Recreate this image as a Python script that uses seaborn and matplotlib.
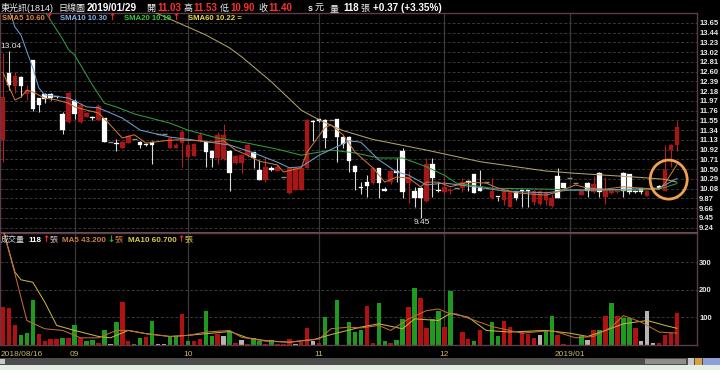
import numpy as np
import pandas as pd
import matplotlib
matplotlib.use("Agg")
import matplotlib.pyplot as plt
from matplotlib.patches import Ellipse, Rectangle
import seaborn as sns

# ---------------- data ----------------
stock_name = "東光訊(1814)"
chart_type = "日線圖"
last_date = "2019/01/29"

opens = [11.13, 12.56, 12.28, 12.49, 12.11, 12.84, 12.03, 12.11, 12.12, 12.07,
         11.68, 11.51, 11.97, 11.52, 11.63, 11.62, 11.56, 11.61, 11.08, 11.07,
         10.96, 11.07, 11.15, 11.09, 11.04, 11.09, 11.25, 11.25, 10.96, 10.96,
         11.06, 10.76, 10.79, 11.11, 11.09, 10.89, 10.73, 10.72, 10.88, 10.63,
         10.63, 10.81, 10.86, 10.48, 10.27, 10.53, 10.46, 10.34, 9.98, 10.05,
         10.05, 10.53, 11.54, 11.57, 11.56, 11.56, 11.58, 11.20, 11.20, 10.57,
         10.11, 10.22, 10.20, 10.52, 10.06, 10.23, 10.46, 10.89, 10.20, 10.02,
         10.10, 9.81, 10.60, 10.04, 10.00, 10.03, 10.09, 10.09, 10.25, 10.39,
         10.12, 10.23, 9.87, 9.91, 9.84, 9.69, 10.03, 10.04, 10.04, 9.80,
         9.76, 9.84, 9.71, 10.35, 10.20, 10.30, 10.20, 9.94, 10.21, 10.00,
         10.42, 9.91, 9.98, 10.01, 10.42, 10.39, 10.02, 10.09, 9.93, 10.09,
         10.14, 10.03, 10.91, 11.03]
highs = [13.00, 13.04, 12.60, 12.50, 12.31, 12.85, 12.04, 12.13, 12.13, 12.08,
         11.72, 12.17, 12.01, 11.92, 11.73, 11.64, 11.90, 11.61, 11.08, 11.15,
         11.11, 11.24, 11.15, 11.11, 11.06, 11.11, 11.25, 11.25, 11.19, 11.06,
         11.34, 11.04, 11.06, 11.31, 11.11, 10.91, 11.29, 11.47, 10.91, 10.81,
         10.81, 11.04, 10.87, 10.70, 10.77, 10.57, 10.59, 10.34, 10.52, 10.52,
         10.55, 11.59, 11.55, 11.58, 11.58, 11.56, 11.59, 11.21, 11.21, 10.59,
         10.23, 10.37, 10.52, 10.52, 10.12, 10.48, 10.75, 10.95, 10.45, 10.12,
         10.12, 10.75, 10.73, 10.23, 10.34, 10.10, 10.09, 10.30, 10.27, 10.40,
         10.48, 10.23, 10.30, 9.91, 10.07, 10.03, 10.04, 10.05, 10.05, 10.05,
         10.05, 10.02, 9.96, 10.52, 10.21, 10.30, 10.20, 10.02, 10.22, 10.35,
         10.43, 10.34, 10.05, 10.06, 10.43, 10.40, 10.05, 10.10, 10.03, 10.10,
         10.16, 11.01, 11.05, 11.53]
lows = [10.65, 12.20, 12.13, 12.06, 11.99, 11.75, 11.74, 11.92, 11.99, 12.03,
        11.25, 11.49, 11.59, 11.49, 11.62, 11.56, 11.56, 11.08, 11.08, 10.88,
        10.95, 11.06, 11.15, 10.95, 11.00, 10.60, 11.25, 11.25, 10.96, 10.95,
        10.55, 10.72, 10.78, 11.09, 10.55, 10.55, 10.61, 10.70, 10.02, 10.61,
        10.41, 10.77, 10.52, 10.27, 10.23, 10.46, 10.46, 10.34, 9.97, 10.05,
        10.05, 10.52, 11.11, 11.52, 10.96, 11.56, 10.65, 10.95, 10.43, 10.05,
        9.96, 9.91, 10.18, 9.87, 10.03, 10.19, 10.23, 9.87, 9.77, 9.69,
        9.45, 9.80, 9.91, 10.01, 9.96, 9.96, 10.09, 10.01, 10.02, 9.98,
        10.02, 10.23, 9.86, 9.82, 9.73, 9.69, 9.84, 9.69, 9.69, 9.73,
        9.73, 9.73, 9.69, 9.87, 10.09, 10.30, 10.20, 9.94, 9.91, 9.98,
        9.91, 9.76, 9.97, 9.99, 9.91, 9.96, 9.98, 9.96, 9.92, 10.05,
        10.07, 10.02, 10.55, 10.90]
closes = [12.06, 12.31, 12.51, 12.28, 12.20, 11.80, 11.88, 12.01, 12.03, 12.05,
          11.34, 12.13, 11.68, 11.88, 11.70, 11.60, 11.85, 11.08, 11.08, 11.05,
          11.09, 11.21, 11.15, 11.01, 11.03, 11.01, 11.25, 11.25, 11.18, 11.02,
          11.31, 11.02, 11.04, 11.24, 10.86, 10.75, 11.24, 11.24, 10.41, 10.79,
          10.81, 11.02, 10.73, 10.27, 10.55, 10.48, 10.55, 10.34, 10.52, 10.52,
          10.53, 11.56, 11.52, 11.54, 11.16, 11.56, 11.20, 11.04, 10.68, 10.43,
          10.09, 10.14, 10.52, 10.20, 10.04, 10.46, 10.41, 10.01, 10.34, 9.87,
          9.87, 10.60, 10.32, 10.02, 10.12, 10.06, 10.09, 10.23, 10.20, 9.98,
          10.02, 10.23, 10.02, 9.89, 10.02, 10.02, 9.87, 10.02, 10.02, 10.03,
          10.02, 10.00, 9.87, 9.87, 10.10, 10.30, 10.20, 10.02, 10.02, 10.17,
          10.00, 10.03, 10.03, 10.04, 10.03, 10.00, 10.01, 10.00, 10.02, 10.07,
          10.09, 10.48, 11.03, 11.40]
volumes = [138, 135, 71, 35, 44, 162, 41, 16, 20, 20,
           25, 25, 71, 25, 13, 19, 9, 55, 2, 82,
           155, 16, 4, 25, 28, 89, 2, 3, 31, 31,
           111, 14, 14, 20, 122, 31, 41, 31, 47, 8,
           19, 4, 24, 16, 3, 19, 4, 3, 20, 4,
           10, 62, 14, 7, 101, 1, 165, 1, 85, 47,
           53, 140, 7, 153, 16, 9, 19, 93, 138, 208,
           172, 62, 95, 122, 67, 198, 0, 49, 20, 16,
           55, 0, 85, 31, 89, 65, 1, 47, 41, 26,
           35, 55, 104, 38, 4, 0, 0, 31, 19, 55,
           56, 104, 153, 104, 98, 99, 60, 13, 122, 7,
           7, 38, 44, 118]
# u = up (red), d = down (green), f = flat (gray)
vol_dir = list("uuuddduuuu" "dududdudfd" "uuddudffdd" "uduuddufdu"
               "fudduduuuf" "uufudfdddd" "duudduddud" "uuddudfuud"
               "ufdduuduuu" "fdduuffdfu" "dududdufff" "uuuu")

sma5_idx = [0, 1, 2, 3, 4, 5, 7, 9, 11, 12, 14, 16, 18, 20, 22, 24, 27, 29, 33, 35,
            37, 39, 41, 43, 46, 47, 50, 51, 54, 55, 57, 59, 62, 64, 66, 68, 70, 71, 73, 75,
            78, 81, 83, 86, 91, 93, 96, 98, 101, 104, 107, 110, 111, 113]
sma5_val = [12.59, 12.27, 11.99, 12.05, 12.20, 12.16, 12.03, 11.99, 11.92, 11.84,
            11.77, 11.71, 11.45, 11.17, 11.24, 11.06, 11.11, 11.13, 11.11, 11.08,
            11.11, 10.91, 10.80, 10.67, 10.59, 10.44, 10.53, 10.87, 11.40, 11.45,
            11.24, 10.87, 10.53, 10.22, 10.33, 10.31, 10.12, 10.22, 10.22, 10.12,
            10.22, 10.20, 10.09, 9.99, 9.94, 10.01, 10.16, 10.09, 10.07, 10.12,
            10.09, 10.07, 10.20, 10.60]
sma10_idx = [1, 2, 3, 5, 6, 7, 11, 14, 16, 20, 23, 28, 33, 38, 42, 46, 48, 50, 53, 58,
             60, 63, 66, 68, 71, 74, 79, 84, 91, 95, 100, 105, 110, 111, 113]
sma10_val = [13.95, 13.56, 13.39, 12.68, 12.25, 12.10, 12.03, 11.84, 11.82, 11.60,
             11.34, 11.19, 11.11, 11.02, 10.85, 10.65, 10.53, 10.55, 10.80, 11.11,
             11.08, 10.70, 10.44, 10.37, 10.16, 10.20, 10.12, 10.03, 9.99, 10.05,
             10.05, 10.07, 10.09, 10.16, 10.30]
sma20_idx = [7, 10, 11, 12, 15, 17, 19, 22, 28, 31, 36, 41, 46, 50, 55, 59, 63, 67, 71, 74,
             76, 82, 91, 96, 101, 107, 110, 113]
sma20_val = [13.90, 13.30, 13.07, 12.96, 12.31, 11.92, 11.84, 11.69, 11.49, 11.34,
             11.17, 11.06, 10.93, 10.80, 10.91, 10.85, 10.74, 10.74, 10.55, 10.37,
             10.20, 10.09, 10.07, 10.05, 10.05, 10.05, 10.07, 10.19]
sma60_idx = [25, 34, 38, 40, 45, 50, 53, 57, 62, 71, 80, 91, 96, 101, 107, 111, 113]
sma60_val = [13.90, 13.39, 13.11, 12.92, 12.38, 11.77, 11.56, 11.33, 11.14, 10.91,
             10.66, 10.46, 10.41, 10.37, 10.32, 10.28, 10.22]

vma5_idx = [0, 1, 2, 4, 7, 10, 13, 16, 19, 21, 24, 28, 31, 34, 38, 40, 44, 48, 50, 53,
            55, 58, 60, 63, 65, 68, 71, 73, 75, 76, 82, 87, 92, 96, 99, 102, 104, 107, 110, 113]
vma5_val = [420, 340, 259, 89, 59, 53, 26, 26, 53, 53, 41, 31, 35, 47, 53, 28, 14, 10, 16, 22,
            59, 65, 62, 71, 53, 95, 125, 131, 113, 113, 67, 43, 53, 26, 31, 65, 107, 83, 47, 43.2]
vma10_idx = [0, 2, 3, 5, 7, 9, 12, 16, 18, 21, 24, 28, 31, 34, 38, 41, 44, 48, 52, 55,
             60, 63, 67, 69, 73, 75, 78, 81, 85, 91, 95, 98, 101, 104, 108, 111, 113]
vma10_val = [420, 265, 237, 228, 156, 71, 53, 31, 26, 53, 41, 31, 35, 41, 49, 26, 16, 10, 19, 38,
             65, 77, 59, 95, 89, 115, 101, 53, 47, 53, 43, 31, 53, 77, 89, 71, 60.7]

price_ticks = [13.65, 13.44, 13.23, 13.02, 12.81, 12.60, 12.39, 12.18, 11.97, 11.76, 11.55,
               11.34, 11.13, 10.92, 10.71, 10.50, 10.29, 10.08, 9.87, 9.66, 9.45, 9.24]
volume_ticks = [100, 200, 300]
date_labels = ["2018/08/16", "09", "10", "11", "12", "2019/01"]
date_index = [0, 12, 31, 53, 74, 95]

# ---------------- style ----------------
sns.set_theme(style="dark", rc={
    "figure.facecolor": "black", "axes.facecolor": "black",
    "axes.edgecolor": "#5e3a4a", "axes.grid": False,
    "text.color": "#e0e0e0", "xtick.color": "#e0e0e0", "ytick.color": "#e0e0e0",
})
FAM = ["Liberation Sans", "Noto Sans CJK TC", "DejaVu Sans"]
ARROW_FAM = ["DejaVu Sans"]
plt.rcParams["font.family"] = FAM

RED_T = "#ff2e2e"
C_SMA5, C_SMA10, C_SMA20, C_SMA60 = "#c8783a", "#6f9cc8", "#2e9e3e", "#b0a068"
C_VMA5, C_VMA10 = "#c06c34", "#c8b040"

W, H = 720.0, 370.0
fig = plt.figure(figsize=(7.2, 3.7), dpi=100)
fig.patch.set_facecolor("black")
ax = fig.add_axes([0, 1 - 233 / H, 697 / W, 220 / H])
axv = fig.add_axes([0, 1 - 345 / H, 697 / W, 112 / H])

n = len(closes)
idx = np.arange(n)

# grid / month lines
for a in (ax, axv):
    for d in date_index[1:]:
        a.axvline(d, color="#3a3a3a", lw=0.9, zorder=0)
for t in price_ticks:
    ax.axhline(t, color="#383838", lw=0.7, ls=(0, (3, 2)), zorder=0)
for t in volume_ticks:
    axv.axhline(t, color="#383838", lw=0.7, ls=(0, (3, 2)), zorder=0)

# candles
for i in range(n):
    o, h, l, c = opens[i], highs[i], lows[i], closes[i]
    if h == l:
        ax.hlines(c, i - 0.42, i + 0.42, color="#8c8c8c", lw=1.0, zorder=2)
        continue
    up = c > o
    body = "#a81616" if up else "#ffffff"
    wick = "#b82020" if up else "#d8d8d8"
    ax.vlines(i, l, h, color=wick, lw=0.8, zorder=2)
    bot = min(o, c)
    ht = max(abs(c - o), 0.022)
    ax.bar(i, ht, bottom=bot, width=0.76, color=body, edgecolor=body, linewidth=0.2, zorder=2.5)

# moving averages (seaborn)
for xi, yv, col in [(sma60_idx, sma60_val, C_SMA60), (sma20_idx, sma20_val, C_SMA20),
                    (sma10_idx, sma10_val, C_SMA10), (sma5_idx, sma5_val, C_SMA5)]:
    sns.lineplot(x=xi, y=yv, ax=ax, color=col, lw=0.75, zorder=4, sort=False,
                 errorbar=None, legend=False)

# highest / lowest labels
hi_i = int(np.argmax(highs)); lo_i = int(np.argmin(lows))
ax.annotate(f"{highs[hi_i]:.2f}", xy=(hi_i, highs[hi_i]), xytext=(2, 1),
            textcoords="offset pixels", ha="center", va="bottom",
            fontsize=6, color="#e8e8e8", zorder=6)
ax.annotate(f"{lows[lo_i]:.2f}", xy=(lo_i, lows[lo_i]), xytext=(1, -1),
            textcoords="offset pixels", ha="center", va="top",
            fontsize=6, color="#e8e8e8", zorder=6)

# orange highlight circle
ax.add_patch(Ellipse((111.6, 10.275), width=6.2, height=0.84, fill=False,
                     edgecolor="#f0a050", lw=2.0, zorder=7))

# volume bars
dir_colors = {"u": "#b01212", "d": "#1e9a1e", "f": "#b4b4b4"}
axv.bar(idx, volumes, width=0.75, color=[dir_colors[d] for d in vol_dir],
        linewidth=0, zorder=2)
sns.lineplot(x=vma10_idx, y=vma10_val, ax=axv, color=C_VMA10, lw=0.75, zorder=4,
             sort=False, errorbar=None, legend=False)
sns.lineplot(x=vma5_idx, y=vma5_val, ax=axv, color=C_VMA5, lw=0.75, zorder=4,
             sort=False, errorbar=None, legend=False)

# axes cosmetics
for a in (ax, axv):
    a.set_facecolor("black")
    a.set_xlim(-0.503, 116.35)
    a.set_xlabel(""); a.set_ylabel("")
    a.set_xticks([])
    a.yaxis.tick_right()
    a.tick_params(axis="y", length=0, pad=1.5, labelsize=5.5, labelcolor="#e8e8e8")
    for sp in a.spines.values():
        sp.set_color("#5e3a4a"); sp.set_linewidth(1.0)
ax.spines["bottom"].set_color("#7a5a68"); ax.spines["bottom"].set_linewidth(1.3)
ax.set_ylim(9.125, 13.862)
axv.set_ylim(0, 407)
ax.set_yticks(price_ticks)
ax.set_yticklabels([f"{t:.2f}" for t in price_ticks], fontweight="bold")
axv.set_yticks(volume_ticks)
axv.set_yticklabels([str(t) for t in volume_ticks], fontweight="bold")

# date labels
for lab, d in zip(date_labels, date_index):
    first = d == date_index[0]
    axv.annotate(lab, xy=(d - (0.35 if first else 0), 0), xycoords=("data", "axes fraction"),
                 xytext=(0, -11.5), textcoords="offset pixels",
                 ha="left" if first else "center", va="baseline",
                 fontsize=6, color="#c8b860", annotation_clip=False)

# ---------------- header texts ----------------
def ftext(x, y, s, col, size, wt="normal", fam=FAM):
    return fig.text(x / W, 1 - y / H, s, color=col, fontsize=size, fontweight=wt,
                    ha="left", va="baseline", family=fam)

renderer = fig.canvas.get_renderer()
def seq(x0, y0, pieces):
    x = x0
    for s, col, size, wt, gap in pieces:
        fam = ARROW_FAM if s in ("↑", "↓") else FAM
        t = ftext(x, y0, s, col, size, wt, fam)
        x += t.get_window_extent(renderer).width + gap

chg = closes[-1] - closes[-2]
pct = chg / closes[-2] * 100
yb = 10.8
WH = "#eeeeee"
ftext(1, yb, stock_name, WH, 6.5)
ftext(58, yb, chart_type, WH, 6.5)
ftext(87, yb, last_date, "#ffffff", 7.2, "bold")
ftext(146, yb, "開", WH, 6.5)
ftext(157, yb, f"{opens[-1]:.2f}", RED_T, 7.0, "bold")
ftext(183, yb, "高", WH, 6.5)
ftext(193, yb, f"{highs[-1]:.2f}", RED_T, 7.0, "bold")
ftext(220, yb, "低", WH, 6.5)
ftext(230, yb, f"{lows[-1]:.2f}", RED_T, 7.0, "bold")
ftext(258, yb, "收", WH, 6.5)
ftext(268, yb, f"{closes[-1]:.2f}", RED_T, 7.0, "bold")
ftext(308, yb, "s", WH, 6.5, "bold")
ftext(315, yb, "元", WH, 6.5)
ftext(330, yb, "量", WH, 6.5)
ftext(343, yb, f"{volumes[-1]}", "#ffffff", 7.0, "bold")
ftext(360, yb, "張", WH, 6.5)
ftext(373, yb, f"{chg:+.2f} ({pct:+.2f}%)", "#ffffff", 7.2, "bold")

y2 = 20.0
seq(2, y2, [(f"SMA5 {sma5_val[-1]:.2f}", "#e08a3c", 5.6, "bold", 1), ("↑", RED_T, 6.2, "bold", 0)])
seq(60, y2, [(f"SMA10 {sma10_val[-1]:.2f}", "#7fb4e6", 5.6, "bold", 1), ("↑", RED_T, 6.2, "bold", 0)])
seq(124, y2, [(f"SMA20 {sma20_val[-1]:.2f}", "#38c838", 5.6, "bold", 1), ("↑", RED_T, 6.2, "bold", 0)])
seq(188, y2, [(f"SMA60 {sma60_val[-1]:.2f} =", "#e6d84c", 5.6, "bold", 0)])

y3 = 241.7
seq(1, y3, [("成交量", "#d8d8d8", 5.8, "normal", 3), (f"{volumes[-1]}", "#ffffff", 5.8, "bold", 1),
            ("↑", RED_T, 6.2, "bold", 0), ("張", "#d8c0c0", 5.8, "normal", 0)])
seq(62, y3, [(f"MA5 {vma5_val[-1]:.3f}", "#d6803c", 5.8, "bold", 1), ("↓", "#22c022", 6.2, "bold", 0),
             ("張", "#d6803c", 5.8, "normal", 0)])
seq(128, y3, [(f"MA10 {vma10_val[-1]:.3f}", "#d8cc44", 5.8, "bold", 1), ("↑", RED_T, 6.2, "bold", 0),
              ("張", "#d8cc44", 5.8, "normal", 0)])

# ---------------- bottom scroll bar ----------------
def frect(x0, y0, x1, y1, col):
    fig.patches.append(Rectangle((x0 / W, 1 - y1 / H), (x1 - x0) / W, (y1 - y0) / H,
                                 transform=fig.transFigure, facecolor=col,
                                 edgecolor="none", zorder=-1))
frect(0, 358, 720, 365, "#4c4c4c")
frect(0, 359, 5, 364, "#c8c8c8")
frect(645, 359, 686, 364, "#8e8e8e")
frect(688, 358, 694, 365, "#c8c8c8")
frect(695, 358, 702, 365, "#d8a040")
frect(703, 358, 720, 365, "#8fa0d8")
frect(0, 365, 720, 370, "#e4eee4")

fig.savefig("out.png", dpi=100, facecolor="black")
